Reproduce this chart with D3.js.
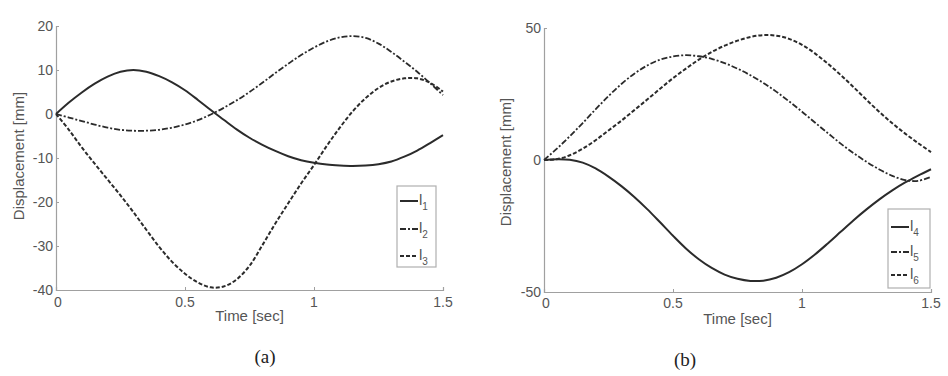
<!DOCTYPE html>
<html>
<head>
<meta charset="utf-8">
<script src="https://cdn.jsdelivr.net/npm/d3@7"></script>
<style>
  html, body { margin: 0; padding: 0; background: #fff; }
  svg { display: block; }
  .tick-label, .axis-title { font-family: "Liberation Sans", Arial, sans-serif; fill: #555; }
  .caption { font-family: "Liberation Serif", "DejaVu Serif", serif; fill: #222; }
</style>
</head>
<body>
<svg id="chart" width="948" height="376"></svg>
<script>
// Sample times (s) shared by every displacement curve
const timeSec = [0, 0.05, 0.1, 0.15, 0.2, 0.25, 0.3, 0.35, 0.4, 0.45, 0.5, 0.55, 0.6, 0.65, 0.7, 0.75,
                 0.8, 0.85, 0.9, 0.95, 1.0, 1.05, 1.1, 1.15, 1.2, 1.25, 1.3, 1.35, 1.4, 1.45, 1.5];

// Panel (a): link displacements l1..l3 (mm)
const l1 = [0, 2.6, 4.9, 6.9, 8.5, 9.6, 10.0, 9.6, 8.6, 7.2, 5.4, 3.2, 0.9, -1.3, -3.5, -5.4,
            -7.0, -8.4, -9.6, -10.5, -11.1, -11.5, -11.7, -11.8, -11.7, -11.4, -10.8, -9.7, -8.3, -6.6, -4.8];
const l2 = [0, -0.8, -1.6, -2.4, -3.1, -3.6, -3.8, -3.8, -3.6, -3.1, -2.4, -1.4, -0.1, 1.4, 3.1, 5.0,
            7.1, 9.3, 11.4, 13.4, 15.1, 16.5, 17.4, 17.7, 17.3, 16.0, 14.1, 11.9, 9.6, 7.0, 4.3];
const l3 = [0, -3.6, -7.6, -11.3, -14.9, -18.5, -22.3, -26.3, -30.2, -33.6, -36.3, -38.3, -39.4, -39.2, -37.6, -34.5,
            -29.8, -24.9, -20.3, -15.8, -11.6, -7.2, -3.1, 0.6, 3.6, 5.9, 7.4, 8.1, 8.1, 7.1, 5.1];

// Panel (b): link displacements l4..l6 (mm)
const l4 = [0, 0.3, 0.1, -1.0, -3.2, -6.3, -9.9, -14.0, -18.6, -23.6, -28.7, -33.5, -37.6, -40.9, -43.4, -45.0,
            -45.8, -45.7, -44.6, -42.5, -39.5, -35.8, -31.6, -27.2, -22.8, -18.7, -14.9, -11.5, -8.5, -5.9, -3.5];
const l5 = [0, 4.3, 9.0, 14.0, 19.2, 24.2, 28.8, 32.7, 35.8, 38.0, 39.2, 39.7, 39.3, 38.3, 36.7, 34.6,
            32.1, 29.2, 25.9, 22.2, 18.3, 14.2, 10.2, 6.2, 2.6, -0.7, -3.6, -6.0, -7.6, -7.9, -6.4];
const l6 = [0, 0.3, 1.8, 4.3, 7.5, 11.2, 14.9, 18.9, 22.9, 27.0, 31.0, 34.6, 38.0, 40.9, 43.3, 45.2,
            46.6, 47.3, 47.1, 45.9, 43.6, 40.4, 36.5, 32.2, 27.6, 22.8, 18.2, 13.9, 10.0, 6.4, 3.0];

// Axis ticks
const xTicks = [0, 0.5, 1, 1.5];
const yTicksA = [-40, -30, -20, -10, 0, 10, 20];
const yTicksB = [-50, 0, 50];

// Line styles: solid, dash-dot, dashed
const styles = {
  solid:   { dash: null,        width: 2.0 },
  dashdot: { dash: "6,2,2,2",   width: 1.8 },
  dashed:  { dash: "4,2",       width: 2.0 }
};
const lineColor = "#2b2b2b";
const axisColor = "#a0a0a0";

const panels = [
  {
    x0: 56, x1: 443, yTop: 26, yBot: 290,
    yDomain: [-40, 20], yTicks: yTicksA,
    yTitleX: 19, yTitleY: 156, xTitleY: 321, tickY: 307,
    series: [
      { values: l1, style: "solid",   sub: "1" },
      { values: l2, style: "dashdot", sub: "2" },
      { values: l3, style: "dashed",  sub: "3" }
    ],
    legend: { x: 397, y: 186, w: 39, h: 81, rows: [201, 229, 256] },
    caption: "(a)", capX: 265, capY: 363
  },
  {
    x0: 544, x1: 931, yTop: 28, yBot: 292,
    yDomain: [-50, 50], yTicks: yTicksB,
    yTitleX: 506, yTitleY: 162, xTitleY: 324, tickY: 308,
    series: [
      { values: l4, style: "solid",   sub: "4" },
      { values: l5, style: "dashdot", sub: "5" },
      { values: l6, style: "dashed",  sub: "6" }
    ],
    legend: { x: 888, y: 209, w: 42, h: 79, rows: [227, 252, 275] },
    caption: "(b)", capX: 685, capY: 366
  }
];

const svg = d3.select("#chart");

panels.forEach(p => {
  const x = d3.scaleLinear().domain([0, 1.5]).range([p.x0, p.x1]);
  const y = d3.scaleLinear().domain(p.yDomain).range([p.yBot, p.yTop]);
  const g = svg.append("g");

  // Left and bottom axis lines with small inward ticks
  const xAxis = d3.axisBottom(x).tickValues(xTicks).tickSize(-3).tickFormat(() => "");
  const yAxis = d3.axisLeft(y).tickValues(p.yTicks).tickSize(-3).tickFormat(() => "");
  const gx = g.append("g").attr("transform", `translate(0,${p.yBot})`).call(xAxis);
  const gy = g.append("g").attr("transform", `translate(${p.x0},0)`).call(yAxis);
  [gx, gy].forEach(a => {
    a.select(".domain").attr("stroke", axisColor).attr("stroke-width", 1.2);
    a.selectAll(".tick line").attr("stroke", axisColor);
  });

  // Tick labels
  g.selectAll(".xl").data(xTicks).join("text")
    .attr("class", "tick-label")
    .attr("x", d => x(d) + (d === 0 ? 2 : 0))
    .attr("y", p.tickY)
    .attr("text-anchor", "middle")
    .attr("font-size", 14)
    .text(d => String(d));
  g.selectAll(".yl").data(p.yTicks).join("text")
    .attr("class", "tick-label")
    .attr("x", p.x0 - 3)
    .attr("y", d => y(d) + 5)
    .attr("text-anchor", "end")
    .attr("font-size", 14)
    .text(d => String(d));

  // Axis titles
  g.append("text").attr("class", "axis-title")
    .attr("x", (p.x0 + p.x1) / 2).attr("y", p.xTitleY)
    .attr("text-anchor", "middle").attr("font-size", 15)
    .text("Time [sec]");
  g.append("text").attr("class", "axis-title")
    .attr("transform", `translate(${p.yTitleX},${p.yTitleY}) rotate(-90)`)
    .attr("text-anchor", "middle").attr("dy", "0.35em").attr("font-size", 15)
    .text("Displacement [mm]");

  // Curves
  const line = d3.line()
    .x((d, i) => x(timeSec[i]))
    .y(d => y(d))
    .curve(d3.curveCatmullRom.alpha(0.5));
  p.series.forEach(s => {
    const st = styles[s.style];
    g.append("path")
      .attr("d", line(s.values))
      .attr("fill", "none")
      .attr("stroke", lineColor)
      .attr("stroke-width", st.width)
      .attr("stroke-dasharray", st.dash);
  });

  // Legend
  const L = p.legend;
  g.append("rect")
    .attr("x", L.x).attr("y", L.y).attr("width", L.w).attr("height", L.h)
    .attr("fill", "#fff").attr("stroke", "#b0b0b0").attr("stroke-width", 1.2);
  p.series.forEach((s, i) => {
    const st = styles[s.style];
    const ry = L.rows[i];
    g.append("line")
      .attr("x1", L.x + 3).attr("x2", L.x + 21)
      .attr("y1", ry).attr("y2", ry)
      .attr("stroke", lineColor)
      .attr("stroke-width", st.width)
      .attr("stroke-dasharray", st.dash);
    const t = g.append("text").attr("class", "tick-label")
      .attr("x", L.x + 22).attr("y", ry + 4)
      .attr("font-size", 15);
    t.append("tspan").text("l");
    t.append("tspan").attr("dy", 5).attr("font-size", 10).text(s.sub);
  });

  // Panel caption
  g.append("text").attr("class", "caption")
    .attr("x", p.capX).attr("y", p.capY)
    .attr("text-anchor", "middle").attr("font-size", 19)
    .text(p.caption);
});
</script>
</body>
</html>
